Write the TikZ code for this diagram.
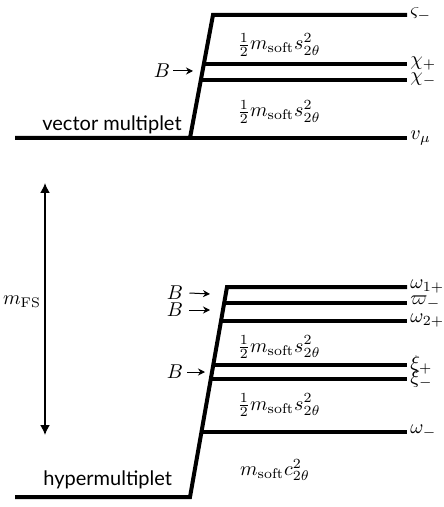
\documentclass[tikz,border=0pt]{standalone}
\usepackage{amsmath,amssymb}
\usepackage{fontspec}
\newfontfamily\gillfont{Lato}
\usepackage{tikz}
\usetikzlibrary{positioning,arrows.meta,calc}

\begin{document}
\begin{tikzpicture}[x=0.5pt,y=-0.5pt,
    every node/.style={font=\normalsize},
    level/.style={line width=2pt},
    lab/.style={anchor=west,inner sep=1.5pt},
    grp/.style={font=\gillfont\fontsize{10}{12}\selectfont,inner sep=0pt},
    barr/.style={-{Stealth[length=3.5pt,width=3.5pt]},line width=0.5pt},
    gap/.style={inner sep=0pt}]
  \useasboundingbox (0,0) rectangle (443,507);

  % vector multiplet
  \coordinate (vbot) at (190,138);
  \coordinate (vtop) at (213,15);
  \coordinate (vleft) at (15,138);
  \node[lab] (vmu)   at (407,138) {$v_\mu$};
  \node[lab] (chim)  at (407,80)  {$\chi_-$};
  \node[lab] (chip)  at (407,64)  {$\chi_+$};
  \node[lab] (sigm)  at (407,15)  {$\varsigma_-$};
  \draw[level] (vleft) -- (vbot) -- (vtop) -- (sigm.west);
  \draw[level] (vbot) -- (vmu.west);
  \draw[level] (203.8,64) -- (chip.west);
  \draw[level] (200.8,80) -- (chim.west);
  \node[grp,anchor=base east] (vname) at (182,131) {vector multiplet};
  \node[gap] (gv1) at (279,45)  {$\tfrac{1}{2}m_{\mathrm{soft}}s^2_{2\theta}$};
  \node[gap] (gv2) at (279,112) {$\tfrac{1}{2}m_{\mathrm{soft}}s^2_{2\theta}$};
  \node[gap] (bv) at (162,71) {$B$};
  \coordinate (bvend) at (193,71);
  \draw[barr] (bv.east) ++(3,0) -- (bvend);

  % hypermultiplet
  \coordinate (hbot) at (190,497);
  \coordinate (htop) at (227,287);
  \coordinate (hleft) at (15,497);
  \node[lab] (om1p) at (407,287) {$\omega_{1+}$};
  \node[lab] (pim)  at (407,303) {$\varpi_-$};
  \node[lab] (om2p) at (407,321) {$\omega_{2+}$};
  \node[lab] (xip)  at (407,365) {$\xi_+$};
  \node[lab] (xim)  at (407,379) {$\xi_-$};
  \node[lab] (omm)  at (407,432) {$\omega_-$};
  \draw[level] (hleft) -- (hbot) -- (htop) -- (om1p.west);
  \draw[level] (224.2,303) -- (pim.west);
  \draw[level] (221.0,321) -- (om2p.west);
  \draw[level] (213.3,365) -- (xip.west);
  \draw[level] (210.8,379) -- (xim.west);
  \draw[level] (201.5,432) -- (omm.west);
  \node[grp,anchor=base west] (hname) at (43,485) {hypermultiplet};
  \node[gap] (gh1) at (279,347) {$\tfrac{1}{2}m_{\mathrm{soft}}s^2_{2\theta}$};
  \node[gap] (gh2) at (279,405) {$\tfrac{1}{2}m_{\mathrm{soft}}s^2_{2\theta}$};
  \node[gap] (gh3) at (275,470) {$m_{\mathrm{soft}}c^2_{2\theta}$};
  \node[gap] (bh1) at (175,293) {$B$};
  \node[gap] (bh2) at (175,310) {$B$};
  \node[gap] (bh3) at (175,372) {$B$};
  \coordinate (bh1end) at (210,294);
  \coordinate (bh2end) at (210,310);
  \coordinate (bh3end) at (205,372);
  \draw[barr] (bh1.east) ++(6,0) -- (bh1end);
  \draw[barr] (bh2.east) ++(6,0) -- (bh2end);
  \draw[barr] (bh3.east) ++(4,0) -- (bh3end);

  % gap between the two
  \coordinate (fstop) at (45,183);
  \coordinate (fsbot) at (45,435);
  \draw[{Latex[length=5pt,width=5pt]}-{Latex[length=5pt,width=5pt]},line width=0.8pt] (fstop) -- (fsbot);
  \node[gap] (mfs) at (22,302) {$m_{\mathrm{FS}}$};
\end{tikzpicture}
\end{document}
